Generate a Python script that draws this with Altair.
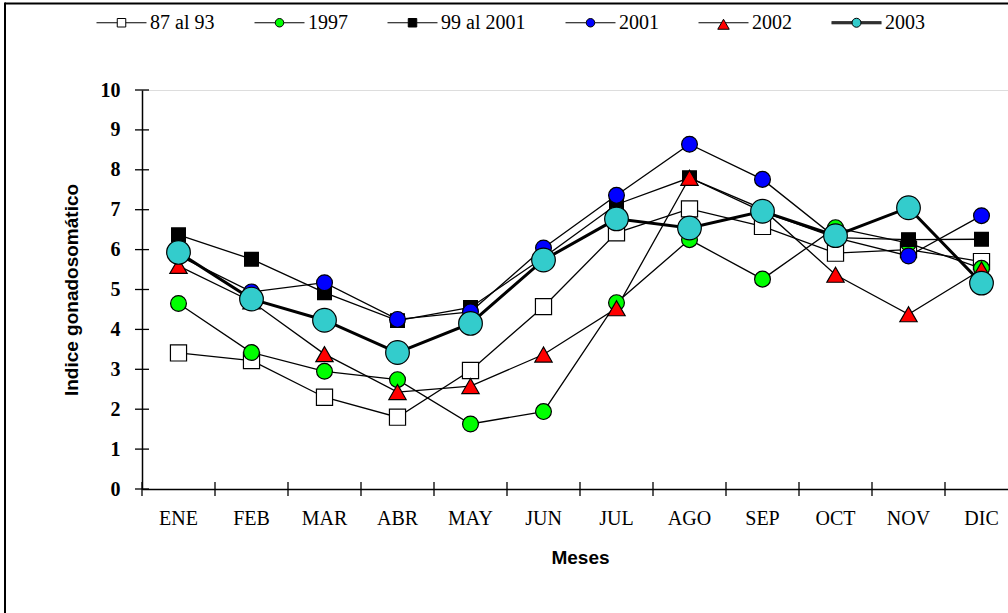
import altair as alt
import pandas as pd

months = ["ENE", "FEB", "MAR", "ABR", "MAY", "JUN", "JUL", "AGO", "SEP", "OCT", "NOV", "DIC"]
series_names = ["87 al 93", "1997", "99 al 2001", "2001", "2002", "2003"]

v_87_93 = [3.41, 3.22, 2.30, 1.80, 2.97, 4.57, 6.42, 7.02, 6.58, 5.91, 6.00, 5.70]
v_1997 = [4.65, 3.42, 2.95, 2.74, 1.63, 1.94, 4.67, 6.25, 5.26, 6.55, 6.16, 5.53]
v_99_01 = [6.37, 5.76, 4.92, 4.22, 4.55, 5.80, 7.13, 7.80, 6.95, 6.30, 6.25, 6.26]
v_2001 = [5.85, 4.94, 5.17, 4.25, 4.44, 6.04, 7.36, 8.64, 7.76, 6.30, 5.84, 6.85]
v_2002 = [5.59, 4.70, 3.38, 2.43, 2.58, 3.37, 4.53, 7.80, 7.02, 5.37, 4.38, 5.50]
v_2003 = [5.93, 4.76, 4.23, 3.42, 4.15, 5.74, 6.77, 6.54, 6.96, 6.35, 7.05, 5.16]

y_ticks = [0, 1, 2, 3, 4, 5, 6, 7, 8, 9, 10]

marker_shapes = ["square", "circle", "square", "circle", "triangle-up", "circle"]
marker_fills = ["#ffffff", "#00ff00", "#000000", "#0000ff", "#ff0000", "#33cccc"]
marker_sizes = [260, 250, 190, 250, 300, 560]
outline_colors = ["#000000"] * 6

legend_paths = [
    "M-1,0H-0.17M0.17,0H1M-0.17,-0.17H0.17V0.17H-0.17Z",
    "M-1,0H-0.17M0.17,0H1M0.17,0A0.17,0.17 0 1,1 -0.17,0A0.17,0.17 0 1,1 0.17,0Z",
    "M-1,0H-0.17M0.17,0H1M-0.17,-0.17H0.17V0.17H-0.17Z",
    "M-1,0H-0.17M0.17,0H1M0.17,0A0.17,0.17 0 1,1 -0.17,0A0.17,0.17 0 1,1 0.17,0Z",
    "M-1,0H-0.08M0.08,0H1M0,-0.14L0.23,0.26H-0.23Z",
    "M-1,-0.04H-0.17M0.17,-0.04H1M-1,0.04H-0.17M0.17,0.04H1M-1,0H-0.17M0.17,0H1M0.18,0A0.18,0.18 0 1,1 -0.18,0A0.18,0.18 0 1,1 0.18,0Z",
]

all_values = [v_87_93, v_1997, v_99_01, v_2001, v_2002, v_2003]
rows = []
for s, vals in zip(series_names, all_values):
    for i, (m, v) in enumerate(zip(months, vals)):
        rows.append({"serie": s, "mes": m, "idx": i, "valor": v})
df = pd.DataFrame(rows)

x_scale = alt.Scale(type="band", domain=months, range=[0, 876], paddingInner=0, paddingOuter=0)
y_scale = alt.Scale(domain=[0, 10], nice=False, zero=True)

x_axis = alt.Axis(
    title="Meses", ticks=False, tickSize=0, labelAngle=0,
    labelFont="Liberation Serif", labelFontSize=20, labelColor="black", labelPadding=19,
    domainColor="black", domainWidth=1.5, grid=False,
    titleFont="Liberation Sans", titleFontSize=19, titleFontWeight="bold",
    titleColor="black", titlePadding=20,
)
y_axis = alt.Axis(
    title="Indice gonadosomático", values=y_ticks, ticks=False, tickSize=0,
    labelFont="Liberation Serif", labelFontSize=20, labelFontWeight="bold",
    labelColor="black", labelPadding=22, labelFlush=False,
    domainColor="black", domainWidth=1.5, grid=False,
    titleFont="Liberation Sans", titleFontSize=19, titleFontWeight="bold",
    titleColor="black", titlePadding=19,
)

X = alt.X("mes:O", scale=x_scale, axis=x_axis, sort=months)
Y = alt.Y("valor:Q", scale=y_scale, axis=y_axis)

frame_src = pd.DataFrame({"k": [0]})
frame_top = alt.Chart(frame_src).mark_rule(color="black", strokeWidth=2).encode(
    x=alt.value(-137), x2=alt.value(1300), y=alt.value(-86.5)
)
frame_left = alt.Chart(frame_src).mark_rule(color="black", strokeWidth=2).encode(
    x=alt.value(-137), y=alt.value(-87.5), y2=alt.value(700)
)

lines = alt.Chart(df).mark_line(color="black").encode(
    x=X, y=Y,
    detail="serie:N",
    order=alt.Order("idx:Q"),
    strokeWidth=alt.condition(alt.datum.serie == "2003", alt.value(3), alt.value(1.3)),
)

point_layers = []
for s, shp, fc, sz in zip(series_names, marker_shapes, marker_fills, marker_sizes):
    point_layers.append(
        alt.Chart(df).transform_filter(alt.datum.serie == s).mark_point(
            shape=shp, filled=True, fill=fc, stroke="black", strokeWidth=1.2,
            size=sz, opacity=1
        ).encode(x=X, y=Y)
    )

ytick_layer = alt.Chart(pd.DataFrame({"valor": y_ticks})).mark_rule(
    color="black", strokeWidth=1.3
).encode(y=Y, x=alt.value(-7), x2=alt.value(7))

xtick_layer = alt.Chart(pd.DataFrame({"mes": months})).mark_rule(
    color="black", strokeWidth=1.3
).encode(
    x=alt.X("mes:O", scale=x_scale, axis=x_axis, sort=months, bandPosition=0),
    y=alt.value(392), y2=alt.value(406),
)

leg = alt.Legend(
    title=None, orient="none", legendX=-46, legendY=-93, direction="horizontal",
    symbolSize=2500, symbolStrokeWidth=1, symbolStrokeColor="black", symbolOpacity=1,
    labelFont="Liberation Serif", labelFontSize=20, labelColor="black",
    labelOffset=3, columnPadding=37, labelLimit=300,
)

legend_layer = alt.Chart(df).transform_filter("false").mark_point(
    filled=True, strokeWidth=1, opacity=1
).encode(
    shape=alt.Shape("serie:N", scale=alt.Scale(domain=series_names, range=legend_paths), legend=leg),
    fill=alt.Fill("serie:N", scale=alt.Scale(domain=series_names, range=marker_fills), legend=leg),
    stroke=alt.Stroke("serie:N", scale=alt.Scale(domain=series_names, range=outline_colors), legend=leg),
)

chart = alt.layer(
    frame_top, frame_left, lines, *point_layers, ytick_layer, xtick_layer, legend_layer
).properties(
    width=866, height=399,
    padding={"left": 142, "top": 90, "right": 0, "bottom": 124},
    autosize=alt.AutoSizeParams(type="none"),
).configure_view(stroke=None).configure(background="white")

chart.save("out.html", embed_options={"renderer": "svg", "actions": False})
